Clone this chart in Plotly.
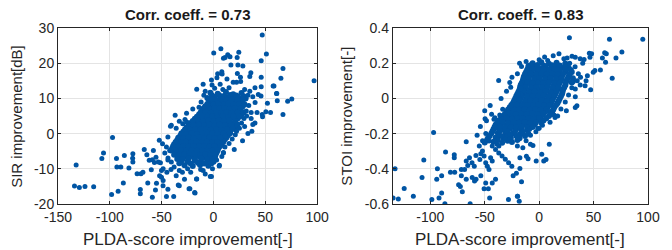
import plotly.graph_objects as go

# ---------------- data ----------------
# Left panel: PLDA-score improvement vs SIR improvement [dB]
sir_outer = [
    (97, 15), (47, 28), (51, 22.6), (46, 20.7), (67, 18.5), (65, 15.7), (57.5, 13.5), (61, 11.4),
    (61.5, 9.3), (75.5, 9.8), (71.5, 9.2), (67, 5.4), (55, 6), (52, 8.6), (47, 5.4), (50.5, 6.2),
    (46, 16), (46, 13.3), (36, 17.3), (35, 16.2), (28.3, 19.2), (23.5, 19.5), (24.4, 23.1), (22.8, 21.6),
    (15.9, 21.8), (13.7, 22.4), (11.2, 21.6), (9.6, 21.4), (7.1, 24.1), (0.2, 22.9), (16.8, 19.5),
    (23, 17.1), (8, 17.6), (8.3, 16.9), (3.3, 15.9), (-2, 15.2), (19, 14.6), (22.2, 14.6), (26.2, 14.8),
    (58.3, 13.5), (-16.2, 12.6), (-1.4, 13.8), (1.1, 12.9), (6.4, 14), (60.8, 11.4), (43.2, 11.1),
    (45.8, 10.7), (-9.3, 10.9), (33.2, 10.9), (37.9, 10.5), (40.1, 8.8), (-5.5, 8.2), (31.6, 6.4),
    (36.3, 6.0), (29.4, 4.3), (36.3, 4.3), (47.3, 4.8), (37.9, 2.6), (37, 0.7), (33.2, 0), (22.2, 0.7),
    (11.2, -0.7), (8.6, -2.4), (9.6, -5.4), (5.5, -9.2), (-2, -12.2), (-12.4, -10.2), (-16.2, -12.9),
    (-25, -10), (-22.8, -15.7), (-17.8, -16.9), (1.7, -6.7), (-37, 5.2), (-40.7, 2.4), (-52.3, -1.9),
    (-58, -4.8), (-55.5, -6.7), (-66.8, -4.5), (-64.3, -6), (-62, -7.6), (-59, -7.4), (-57, -8.2),
    (-78, -7), (-77.8, -5.7), (-77.8, -8.1), (-73.7, -11.4), (-70, -11.4), (-68.1, -11), (-51.2, -8.3),
    (-48.6, -10), (-50.2, -12.4), (-48.6, -13.3), (-45.4, -17.9), (-38.4, -17.9), (-34, -14.6),
    (-43.9, -6.9), (-40.7, -8.1), (-49.2, -2.9), (-45.4, -3.8), (-42.3, -4.8), (-29.7, 2.8),
    (-97.4, -1.1), (-132.5, -8.9), (-107.7, -7.1), (-106.1, -5.5), (-134.1, -14.9), (-129.4, -15.3),
    (-124, -15), (-115.6, -15.1), (-98.3, -17.3), (-92, -16.4), (-93.6, -7.1), (-93.2, -9.5),
    (-89.4, -9.5), (-87, -14), (-86, -6.2), (-81.6, -9.8), (-70.6, -15.9), (-70.6, -17.1), (-63.4, -14),
    (-59, -18.1), (-55, -14.1), (-48.7, -14.8), (-33, -14.8), (-23.6, -15.7), (-18.2, -16.7),
    (-16.4, -12.9), (-3.1, -12.2), (5.7, -9), (9.4, -5.5), (-25.8, 3.3), (-41.5, 2.1), (-27.5, 4),
    (-15.6, 4.1), (-53.3, -8.1), (-50.2, -10.5), (-60, -10.3), (-45, -11), (-41, -10.2), (-36, -12),
    (-30, -11), (-28, -13), (-44, -15.8), (-56, -16), (-52, -12),
    (-20, 7), (-26, 5.8), (-33, 3.5), (-36, 1.5), (-44, -1), (-47, -5.5), (-44, -7.5), (-38, -9.5),
    (-33, -10.5), (-22, -11), (-10, -10.5), (-8, -11.5), (3, -7.5), (8, -6.5), (11, -3.8), (15, -2.8),
    (18, -1.5), (21, -0.3), (25, 1.5), (27, 3), (30, 2), (32, 5), (34, 8), (35, 12), (30, 12.5),
    (15, 13), (9, 12.5), (-8, 12), (-12, 9), (-14, 7.5), (-10, 14), (4, 17), (13, 15.5), (26, 16),
    (40, 13), (42, 6), (40, 3), (28, -2), (20, -4.5), (-1, -10),
]
sir_core = [
    (-3, 11.6), (4, 11.3), (12, 11.8), (19, 11.2), (27, 11.5),
    (-6, 10.1), (1, 10.4), (7, 10.0), (13, 10.3), (18, 9.9), (24, 10.2), (31, 10.0),
    (-4, 9.0), (2, 8.8), (6, 9.2), (10, 8.9), (15, 9.1), (20, 8.8), (26, 9.0),
    (-8, 7.8), (-2, 7.6), (3, 8.0), (8, 7.7), (12, 7.9), (17, 7.6), (22, 7.9), (28, 7.7),
    (-11, 6.6), (-6, 6.8), (-1, 6.5), (4, 6.7), (9, 6.4), (14, 6.7), (19, 6.5), (25, 6.8),
    (-14, 5.4), (-9, 5.2), (-4, 5.5), (1, 5.3), (6, 5.6), (11, 5.3), (16, 5.5), (21, 5.2), (27, 5.4),
    (-18, 4.2), (-13, 4.4), (-8, 4.1), (-3, 4.3), (2, 4.0), (7, 4.3), (12, 4.1), (17, 4.4), (23, 4.2),
    (-22, 3.0), (-17, 2.8), (-12, 3.1), (-7, 2.9), (-2, 3.2), (3, 2.9), (8, 3.1), (13, 2.8), (19, 3.0),
    (-26, 1.8), (-21, 1.6), (-16, 1.9), (-11, 1.7), (-6, 2.0), (-1, 1.7), (4, 1.9), (9, 1.6), (15, 1.8), (21, 1.9),
    (-29, 0.6), (-24, 0.4), (-19, 0.7), (-14, 0.5), (-9, 0.8), (-4, 0.5), (1, 0.7), (6, 0.4), (11, 0.6), (16, 0.8),
    (-32, -0.6), (-27, -0.8), (-22, -0.5), (-17, -0.7), (-12, -0.4), (-7, -0.7), (-2, -0.5), (3, -0.8), (8, -0.6), (14, -0.5),
    (-35, -1.8), (-30, -2.0), (-25, -1.7), (-20, -1.9), (-15, -1.6), (-10, -1.9), (-5, -1.7), (0, -2.0), (5, -1.8), (11, -1.6),
    (-38, -3.0), (-33, -3.2), (-28, -2.9), (-23, -3.1), (-18, -2.8), (-13, -3.1), (-8, -2.9), (-3, -3.2), (2, -3.0), (8, -2.8),
    (-40, -4.2), (-35, -4.4), (-30, -4.1), (-25, -4.3), (-20, -4.0), (-15, -4.3), (-10, -4.1), (-5, -4.4), (0, -4.2), (5, -4.0),
    (-37, -5.4), (-32, -5.6), (-27, -5.3), (-22, -5.5), (-17, -5.2), (-12, -5.5), (-7, -5.3), (-2, -5.6), (3, -5.4),
    (-34, -6.6), (-29, -6.8), (-24, -6.5), (-19, -6.7), (-14, -6.4), (-9, -6.7), (-4, -6.5), (1, -6.8),
    (-31, -7.8), (-25, -8.0), (-18, -7.7), (-12, -7.9), (-6, -7.6), (0, -8.0),
    (-28, -9.0), (-20, -9.2), (-13, -8.9), (-5, -9.1),
]
sir_core_fill = [
    (-1.5, 10.8), (5.5, 10.9), (10, 10.7), (16, 11.0), (22, 10.8), (29, 10.6),
    (-4.5, 9.6), (-1, 9.7), (4, 9.5), (8.5, 9.8), (12.5, 9.5), (17.5, 9.7), (23, 9.5), (28.5, 9.6),
    (-6, 8.4), (0, 8.3), (4.5, 8.5), (10, 8.3), (14.5, 8.5), (19.5, 8.2), (24.5, 8.4), (30, 8.3),
    (-9.5, 7.2), (-4.5, 7.0), (1, 7.3), (6, 7.1), (10.5, 7.3), (15.5, 7.0), (20.5, 7.2), (26, 7.1),
    (-12.5, 6.0), (-7.5, 6.1), (-2.5, 5.9), (2.5, 6.1), (7.5, 5.9), (12.5, 6.1), (17.5, 5.9), (23, 6.0), (29, 6.1),
    (-16, 4.8), (-11, 4.9), (-6, 4.7), (-1, 4.9), (4, 4.7), (9, 4.9), (14, 4.7), (19, 4.9), (25, 4.8),
    (-20, 3.6), (-15, 3.7), (-10, 3.5), (-5, 3.7), (0, 3.5), (5, 3.7), (10, 3.5), (15, 3.7), (21, 3.6),
    (-24, 2.4), (-19, 2.3), (-14, 2.5), (-9, 2.3), (-4, 2.5), (1, 2.3), (6, 2.5), (11, 2.3), (17, 2.4), (23, 2.5),
    (-27.5, 1.2), (-22.5, 1.1), (-17.5, 1.3), (-12.5, 1.1), (-7.5, 1.3), (-2.5, 1.1), (2.5, 1.3), (7.5, 1.1), (13, 1.2), (18.5, 1.3),
    (-31, 0.0), (-26, -0.1), (-21, 0.1), (-16, -0.1), (-11, 0.1), (-6, -0.1), (-1, 0.1), (4, -0.1), (9.5, 0.0), (16, 0.1),
    (-34, -1.2), (-29, -1.3), (-24, -1.1), (-19, -1.3), (-14, -1.1), (-9, -1.3), (-4, -1.1), (1, -1.3), (6.5, -1.2), (12.5, -1.1),
    (-36.5, -2.4), (-31.5, -2.5), (-26.5, -2.3), (-21.5, -2.5), (-16.5, -2.3), (-11.5, -2.5), (-6.5, -2.3), (-1.5, -2.5), (3.5, -2.4), (9.5, -2.3),
    (-39, -3.6), (-34, -3.7), (-29, -3.5), (-24, -3.7), (-19, -3.5), (-14, -3.7), (-9, -3.5), (-4, -3.7), (1, -3.6), (6.5, -3.5),
    (-41, -4.8), (-36, -4.9), (-31, -4.7), (-26, -4.9), (-21, -4.7), (-16, -4.9), (-11, -4.7), (-6, -4.9), (-1, -4.8), (4, -4.7),
    (-38, -6.0), (-33, -6.1), (-28, -5.9), (-23, -6.1), (-18, -5.9), (-13, -6.1), (-8, -5.9), (-3, -6.1), (2, -6.0),
    (-35, -7.2), (-30, -7.3), (-24, -7.1), (-18, -7.3), (-12, -7.1), (-6, -7.3), (-1, -7.2),
    (-33, -8.4), (-22, -8.5), (-15, -8.3), (-9, -8.5), (-2, -8.4),
]

# Right panel: PLDA-score improvement vs STOI improvement [-]
stoi_outer = [
    (27.8, 0.345), (64.6, 0.336), (95.2, 0.336), (76, 0.263), (70.6, 0.229), (67.1, 0.114), (61.7, 0.253),
    (58.1, 0.23), (60.2, 0.259), (48.2, 0.253), (46.7, 0.234), (46.1, 0.257), (61, 0.205), (56.3, 0.162),
    (51.2, 0.158), (49.7, 0.149), (41.3, 0.221), (37.7, 0.225), (33.2, 0.234), (30.2, 0.24), (25.7, 0.23),
    (22.7, 0.225), (18.2, 0.253), (12.9, 0.243), (7.8, 0.215), (-16.2, 0.181), (-10.2, 0.187), (44.3, 0.129),
    (43.1, 0.1), (42.2, 0.072), (47.3, 0.049), (37.7, 0.076), (33.2, 0.053), (33.2, 0.01), (34.7, -0.042),
    (33.2, -0.051), (16.7, -0.032), (13.7, -0.095), (7.8, -0.07), (-16.8, 0.082), (-16.8, 0.057),
    (-16.8, 0.025), (14.6, -0.109), (9.3, -0.261), (2.4, -0.318), (6.3, -0.347), (4.2, -0.356),
    (-2.7, -0.356), (-5.7, -0.267), (-10.2, -0.343), (-11.7, -0.328), (-17.7, -0.337), (-17.7, -0.398),
    (-16.2, -0.474), (-19.8, -0.556), (-18.3, -0.585), (-8.7, -0.175), (-1.2, -0.171), (-37.2, 0.101),
    (-26.1, 0.063), (-33.5, -0.061), (-43.7, -0.09), (-36.2, -0.095), (-25.7, -0.042), (-28.2, -0.08),
    (-49.7, -0.115), (-40.7, -0.11), (-19.2, 0.026), (-97, -0.194), (-132.4, -0.4), (-134.2, -0.566),
    (-129.4, -0.571), (-124, -0.512), (-115.6, -0.556), (-106, -0.35), (-107.6, -0.45), (-98.6, -0.575),
    (-92, -0.566), (-93.5, -0.4), (-94.1, -0.46), (-89.6, -0.44), (-89.6, -0.537), (-86.6, -0.598),
    (-86, -0.305), (-81.5, -0.42), (-77.6, -0.42), (-78, -0.337), (-78, -0.32), (-74, -0.49), (-72.4, -0.5),
    (-70.6, -0.53), (-71.5, -0.404), (-68.5, -0.404), (-67, -0.356), (-64, -0.337), (-67, -0.247),
    (-63.4, -0.598), (-61.5, -0.45), (-59.4, -0.47), (-58, -0.46), (-50.6, -0.514), (-46.7, -0.514),
    (-45.5, -0.566), (-52, -0.24), (-49, -0.2), (-48.4, -0.127), (-41.5, -0.118), (-28.2, -0.575),
    (-20, -0.556), (-20.9, -0.425), (-23.9, -0.44), (-65.6, -0.381), (-61.7, -0.366), (-59.6, -0.385),
    (-58.1, -0.324), (-54.5, -0.347), (-53.6, -0.314), (-52.1, -0.299), (-50.6, -0.327), (-49.1, -0.366),
    (-47.6, -0.385), (-46.1, -0.404), (-44.6, -0.337), (-43.1, -0.356), (-40.1, -0.29), (-37.1, -0.31),
    (-34.1, -0.327), (-31.1, -0.346), (-28.1, -0.366), (-25.1, -0.385), (-43.1, -0.48), (-40.1, -0.46),
    (-49.1, -0.48), (-53.6, -0.44), (-71.5, -0.44), (-67, -0.46), (-46.1, -0.242), (-43.1, -0.27),
    (-38.6, -0.26), (-34.1, -0.213), (-31.1, -0.232), (-26.6, -0.204),
    (-25, 0.12), (-20, 0.14), (-18, 0.2), (-12, 0.21), (0, 0.22), (5, 0.235), (28, 0.2), (33, 0.18),
    (36, 0.14), (35, 0.1), (30, 0.06), (27, 0.02), (24, -0.02), (20, -0.06), (17, -0.1), (10, -0.135),
    (3, -0.152), (0, -0.17), (-3, -0.19), (-8, -0.21), (-12, -0.24), (-15, -0.28), (-20, -0.27),
    (-8, -0.26), (-55, -0.27), (-57, -0.21), (-54, -0.16), (-50, -0.07), (-45, -0.04), (-35, 0.0),
    (-30, 0.04), (-27, 0.09), (40, 0.2), (38, 0.12), (25, -0.07), (-37, -0.27),
]
stoi_core = [
    (-6, 0.2), (2, 0.205), (9, 0.197), (16, 0.203), (24, 0.198),
    (-10, 0.175), (-4, 0.178), (1, 0.172), (6, 0.176), (11, 0.173), (16, 0.177), (21, 0.174), (27, 0.176),
    (-12, 0.15), (-7, 0.153), (-2, 0.148), (3, 0.152), (8, 0.149), (13, 0.151), (18, 0.147), (24, 0.152), (30, 0.15),
    (-14, 0.125), (-9, 0.128), (-4, 0.123), (1, 0.127), (6, 0.124), (11, 0.126), (16, 0.122), (21, 0.127), (27, 0.125),
    (-15, 0.1), (-10, 0.103), (-5, 0.098), (0, 0.102), (5, 0.099), (10, 0.101), (15, 0.097), (20, 0.102), (25, 0.1), (31, 0.098),
    (-17, 0.075), (-12, 0.078), (-7, 0.073), (-2, 0.077), (3, 0.074), (8, 0.076), (13, 0.072), (18, 0.077), (24, 0.075),
    (-18, 0.05), (-13, 0.053), (-8, 0.048), (-3, 0.052), (2, 0.049), (7, 0.051), (12, 0.047), (17, 0.052), (22, 0.05),
    (-20, 0.025), (-15, 0.028), (-10, 0.023), (-5, 0.027), (0, 0.024), (5, 0.026), (10, 0.022), (15, 0.027), (21, 0.025),
    (-22, 0.0), (-17, 0.003), (-12, -0.002), (-7, 0.002), (-2, -0.001), (3, 0.001), (8, -0.003), (13, 0.002), (19, 0.0),
    (-24, -0.025), (-19, -0.022), (-14, -0.027), (-9, -0.023), (-4, -0.026), (1, -0.024), (6, -0.028), (11, -0.023), (17, -0.025),
    (-27, -0.05), (-22, -0.047), (-17, -0.052), (-12, -0.048), (-7, -0.051), (-2, -0.049), (3, -0.053), (8, -0.048), (14, -0.05),
    (-30, -0.075), (-25, -0.072), (-20, -0.077), (-15, -0.073), (-10, -0.076), (-5, -0.074), (0, -0.078), (6, -0.073), (12, -0.075),
    (-33, -0.1), (-28, -0.097), (-23, -0.102), (-18, -0.098), (-13, -0.101), (-8, -0.099), (-3, -0.103), (2, -0.098), (9, -0.1),
    (-37, -0.125), (-32, -0.122), (-27, -0.127), (-22, -0.123), (-17, -0.126), (-12, -0.124), (-7, -0.128), (-2, -0.123), (4, -0.125),
    (-40, -0.15), (-35, -0.147), (-30, -0.152), (-25, -0.148), (-20, -0.151), (-15, -0.149), (-10, -0.153), (-4, -0.148),
    (-42, -0.175), (-37, -0.172), (-32, -0.177), (-27, -0.173), (-22, -0.176), (-17, -0.174), (-11, -0.178),
    (-44, -0.2), (-38, -0.197), (-31, -0.202), (-24, -0.198), (-17, -0.201), (-10, -0.199),
    (-47, -0.225), (-40, -0.222), (-33, -0.227), (-26, -0.223), (-18, -0.226),
    (-50, -0.25), (-42, -0.247), (-34, -0.252), (-25, -0.248),
]
stoi_core_fill = [
    (-8, 0.188), (-1.5, 0.19), (4.5, 0.186), (12, 0.189), (19, 0.187), (25, 0.19),
    (-11, 0.163), (-6, 0.165), (-1, 0.161), (4, 0.164), (9, 0.162), (14, 0.165), (19, 0.161), (24, 0.164), (29, 0.162),
    (-13, 0.138), (-8, 0.14), (-3, 0.136), (2, 0.139), (7, 0.137), (12, 0.14), (17, 0.136), (22, 0.139), (28, 0.137),
    (-14.5, 0.113), (-9.5, 0.115), (-4.5, 0.111), (0.5, 0.114), (5.5, 0.112), (10.5, 0.115), (15.5, 0.111), (20.5, 0.114), (26, 0.112), (31, 0.115),
    (-16, 0.088), (-11, 0.09), (-6, 0.086), (-1, 0.089), (4, 0.087), (9, 0.09), (14, 0.086), (19, 0.089), (24.5, 0.087), (30, 0.09),
    (-17.5, 0.063), (-12.5, 0.065), (-7.5, 0.061), (-2.5, 0.064), (2.5, 0.062), (7.5, 0.065), (12.5, 0.061), (17.5, 0.064), (23, 0.062),
    (-19, 0.038), (-14, 0.04), (-9, 0.036), (-4, 0.039), (1, 0.037), (6, 0.04), (11, 0.036), (16, 0.039), (21.5, 0.037),
    (-21, 0.013), (-16, 0.015), (-11, 0.011), (-6, 0.014), (-1, 0.012), (4, 0.015), (9, 0.011), (14, 0.014), (20, 0.012),
    (-23, -0.013), (-18, -0.011), (-13, -0.015), (-8, -0.012), (-3, -0.014), (2, -0.011), (7, -0.015), (12, -0.012), (18, -0.013),
    (-25.5, -0.038), (-20.5, -0.036), (-15.5, -0.04), (-10.5, -0.037), (-5.5, -0.039), (-0.5, -0.036), (4.5, -0.04), (9.5, -0.037), (15.5, -0.038),
    (-28.5, -0.063), (-23.5, -0.061), (-18.5, -0.065), (-13.5, -0.062), (-8.5, -0.064), (-3.5, -0.061), (1.5, -0.065), (7, -0.062), (13, -0.063),
    (-31.5, -0.088), (-26.5, -0.086), (-21.5, -0.09), (-16.5, -0.087), (-11.5, -0.089), (-6.5, -0.086), (-1.5, -0.09), (4, -0.087), (10.5, -0.088),
    (-35, -0.113), (-30, -0.111), (-25, -0.115), (-20, -0.112), (-15, -0.114), (-10, -0.111), (-5, -0.115), (0, -0.112), (6.5, -0.113),
    (-38.5, -0.138), (-33.5, -0.136), (-28.5, -0.14), (-23.5, -0.137), (-18.5, -0.139), (-13.5, -0.136), (-8.5, -0.14), (-3, -0.137), (2, -0.138),
    (-41, -0.163), (-36, -0.161), (-31, -0.165), (-26, -0.162), (-21, -0.164), (-16, -0.161), (-11, -0.165), (-6, -0.162),
    (-43, -0.188), (-36, -0.186), (-29, -0.19), (-22, -0.187), (-15, -0.189),
    (-45.5, -0.213), (-37, -0.211), (-29, -0.215), (-21, -0.212), (-13, -0.214),
    (-48, -0.238), (-38, -0.236), (-29, -0.24), (-20, -0.237),
]

titles = ["Corr. coeff. = 0.73", "Corr. coeff. = 0.83"]
x_label = "PLDA-score improvement[-]"
y_labels = ["SIR improvement[dB]", "STOI improvement[-]"]
x_ticks_left = [-150, -100, -50, 0, 50, 100]
x_ticks_right = [-100, -50, 0, 50, 100]
y_ticks_left = [-20, -10, 0, 10, 20, 30]
y_ticks_right = [-0.6, -0.4, -0.2, 0, 0.2, 0.4]
y_ticktext_right = ["-0.6", "-0.4", "-0.2", "0", "0.2", "0.4"]

# ---------------- figure ----------------
FONT = "Liberation Sans, Arial, sans-serif"
TXT = "#262626"
MARK = "#0055A4"

panels = [
    ("x", "y", sir_core + sir_core_fill, sir_outer),
    ("x2", "y2", stoi_core + stoi_core_fill, stoi_outer),
]

fig = go.Figure()
for xa, ya, core, outer in panels:
    fig.add_trace(go.Scatter(
        x=[p[0] for p in core], y=[p[1] for p in core], mode="markers",
        marker=dict(size=6, color=MARK, line=dict(width=0)), xaxis=xa, yaxis=ya,
        showlegend=False, hoverinfo="skip"))
    fig.add_trace(go.Scatter(
        x=[p[0] for p in outer], y=[p[1] for p in outer], mode="markers",
        marker=dict(size=5, color=MARK, line=dict(width=0)), xaxis=xa, yaxis=ya,
        showlegend=False, hoverinfo="skip"))

L_DOM = [0.0, 0.4393]
R_DOM = [0.5674, 1.0]

axis_common = dict(
    showline=True, linecolor=TXT, linewidth=1, mirror="ticks",
    ticks="inside", ticklen=3, tickwidth=1, tickcolor=TXT,
    showgrid=True, gridcolor="#e4e4e4", gridwidth=1, zeroline=False,
    tickfont=dict(family=FONT, size=14, color=TXT),
)

fig.update_layout(
    width=672, height=250,
    margin=dict(l=58, r=13, t=28, b=46),
    paper_bgcolor="white", plot_bgcolor="white",
    xaxis=dict(domain=L_DOM, range=[-150, 100], tickvals=x_ticks_left,
               ticktext=[str(v) for v in x_ticks_left], anchor="y", **axis_common),
    yaxis=dict(domain=[0, 1], range=[-20, 30], tickvals=y_ticks_left,
               ticktext=[str(v) for v in y_ticks_left], anchor="x", **axis_common),
    xaxis2=dict(domain=R_DOM, range=[-134.5, 100], tickvals=x_ticks_right,
                ticktext=[str(v) for v in x_ticks_right], anchor="y2", **axis_common),
    yaxis2=dict(domain=[0, 1], range=[-0.6, 0.4], tickvals=y_ticks_right,
                ticktext=y_ticktext_right, anchor="x2", **axis_common),
)

anns = []
for dom, t in zip([L_DOM, R_DOM], titles):
    cx = (dom[0] + dom[1]) / 2
    anns.append(dict(text="<b>" + t + "</b>", x=cx, y=1, xref="paper", yref="paper",
                     xanchor="center", yanchor="bottom", yshift=3, showarrow=False,
                     font=dict(family=FONT, size=15, color="#1a1a1a")))
    anns.append(dict(text=x_label, x=cx, y=0, xref="paper", yref="paper",
                     xanchor="center", yanchor="middle", yshift=-35, showarrow=False,
                     font=dict(family=FONT, size=17, color=TXT)))
for xp, t in zip([-0.0715, 0.4875], y_labels):
    anns.append(dict(text=t, x=xp, y=0.5, xref="paper", yref="paper", textangle=-90,
                     xanchor="center", yanchor="middle", showarrow=False,
                     font=dict(family=FONT, size=15, color=TXT)))
fig.update_layout(annotations=anns)

fig.write_html("out.html", config={"displayModeBar": False},
               post_script=["document.body.style.margin='0px';"])
